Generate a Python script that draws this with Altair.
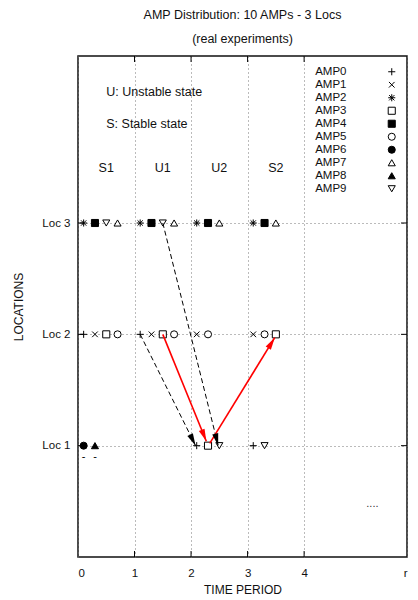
import math
import altair as alt
import pandas as pd

# ---------------- data ----------------
amp_names = [f"AMP{i}" for i in range(10)]
amp_shapes = [
    "M-1,0L1,0M0,-1L0,1",                                              # AMP0 +
    "M-0.8,-0.8L0.8,0.8M-0.8,0.8L0.8,-0.8",                            # AMP1 x
    "M-1,0L1,0M0,-1L0,1M-0.75,-0.75L0.75,0.75M-0.75,0.75L0.75,-0.75",  # AMP2 *
    "square",        # AMP3 open square
    "square",        # AMP4 filled square
    "circle",        # AMP5 open circle
    "circle",        # AMP6 filled circle
    "triangle-up",   # AMP7 open triangle
    "triangle-up",   # AMP8 filled triangle
    "triangle-down", # AMP9 open triangle down
]
amp_fills = ["white", "white", "white", "white", "black",
             "white", "black", "white", "black", "white"]
amp_strokes = ["black"] * 10

pt_amp = ["AMP2", "AMP4", "AMP9", "AMP7", "AMP2", "AMP4", "AMP9", "AMP7",
          "AMP2", "AMP4", "AMP7", "AMP2", "AMP4", "AMP7",
          "AMP0", "AMP1", "AMP3", "AMP5", "AMP0", "AMP1", "AMP3", "AMP5",
          "AMP1", "AMP5", "AMP1", "AMP5", "AMP3",
          "AMP6", "AMP8", "AMP0", "AMP3", "AMP9", "AMP0", "AMP9"]
pt_time = [0.1, 0.3, 0.5, 0.7, 1.1, 1.3, 1.5, 1.7,
           2.1, 2.3, 2.5, 3.1, 3.3, 3.5,
           0.1, 0.3, 0.5, 0.7, 1.1, 1.3, 1.5, 1.7,
           2.1, 2.3, 3.1, 3.3, 3.5,
           0.1, 0.3, 2.1, 2.3, 2.5, 3.1, 3.3]
pt_loc = [3] * 14 + [2] * 13 + [1] * 7

# small dashes below the Loc 1 markers of state S1
dash_time = [0.1, 0.3]
dash_loc = [0.9, 0.9]

# arrows (start -> end)
dashed_x0 = [1.1, 1.5]
dashed_y0 = [2.0, 3.0]
dashed_x1 = [2.08, 2.48]
dashed_y1 = [1.0, 1.0]

red_x0 = [1.5, 2.33]
red_y0 = [2.0, 1.02]
red_x1 = [2.27, 3.48]
red_y1 = [1.04, 1.97]

state_labels = ["S1", "U1", "U2", "S2"]
state_time = [0.5, 1.5, 2.5, 3.5]
state_loc = [3.49, 3.49, 3.49, 3.49]

note_text = ["U: Unstable state", "S: Stable state"]
note_time = [0.5, 0.5]
note_loc = [4.18, 3.89]

dots_text = ["...."]
dots_time = [5.1]
dots_loc = [0.48]

X_MAX, Y_MAX = 5.82, 4.5
x_ticks = [0, 1, 2, 3, 4, X_MAX]   # last tick is labelled "r"
y_ticks = [1, 2, 3]
inner_x_ticks = [1, 2, 3, 4]

# ---------------- layout ----------------
W, H = 329, 501
PX, PY = W / X_MAX, H / Y_MAX
FONT = "Liberation Sans"

points = pd.DataFrame({"amp": pt_amp, "t": pt_time, "loc": pt_loc})


def arrow_df(x0, y0, x1, y1):
    df = pd.DataFrame({"t": x0, "loc": y0, "t2": x1, "loc2": y1})
    df["ang"] = [
        (math.degrees(math.atan2((b - a) * PX, (d - c) * PY)) + 360) % 360
        for a, b, c, d in zip(x0, x1, y0, y1)
    ]
    return df


dashed = arrow_df(dashed_x0, dashed_y0, dashed_x1, dashed_y1)
red = arrow_df(red_x0, red_y0, red_x1, red_y1)

xscale = alt.Scale(domain=[0, X_MAX], nice=False, zero=False)
yscale = alt.Scale(domain=[0, Y_MAX], nice=False, zero=False)

legend = alt.Legend(
    orient="none", legendX=308, legendY=10, title=None,
    labelAlign="right", labelOffset={"expr": "-51"}, labelFontSize=11.5, labelFont=FONT,
    labelColor="#111", symbolStrokeColor="black", symbolStrokeWidth=1,
    symbolSize=50, rowPadding=0, labelLimit=200,
)

pts = alt.Chart(points).mark_point(size=50, strokeWidth=1, opacity=1).encode(
    x=alt.X("t:Q", scale=xscale, axis=alt.Axis(
        values=x_ticks, title="TIME PERIOD",
        labelExpr="datum.value > 5 ? 'r' : format(datum.value, 'd')",
        grid=True, gridDash=[1, 3], gridColor="#777", gridWidth=1,
        ticks=False, domain=False, labelPadding=10, titlePadding=6)),
    y=alt.Y("loc:Q", scale=yscale, axis=alt.Axis(
        values=y_ticks, title="LOCATIONS",
        labelExpr="'Loc ' + format(datum.value, 'd')",
        grid=True, gridDash=[1, 3], gridColor="#777", gridWidth=1,
        ticks=False, domain=False, labelPadding=8, titlePadding=16)),
    shape=alt.Shape("amp:N", scale=alt.Scale(domain=amp_names, range=amp_shapes), legend=legend),
    fill=alt.Fill("amp:N", scale=alt.Scale(domain=amp_names, range=amp_fills), legend=legend),
    stroke=alt.Stroke("amp:N", scale=alt.Scale(domain=amp_names, range=amp_strokes), legend=legend),
)

dash_marks = alt.Chart(pd.DataFrame({"t": dash_time, "loc": dash_loc, "s": ["-", "-"]})).mark_text(
    font=FONT, fontSize=11, color="black").encode(x="t:Q", y="loc:Q", text="s:N")

dashed_lines = alt.Chart(dashed).mark_rule(color="black", strokeDash=[5, 3], strokeWidth=1).encode(
    x="t:Q", y="loc:Q", x2="t2:Q", y2="loc2:Q")
red_lines = alt.Chart(red).mark_rule(color="#ff0000", strokeWidth=1.6).encode(
    x="t:Q", y="loc:Q", x2="t2:Q", y2="loc2:Q")

HEAD = "M0,0L0.5,2L-0.5,2Z"
dashed_heads = alt.Chart(dashed).mark_point(shape=HEAD, size=150, filled=True, color="black", opacity=1).encode(
    x="t2:Q", y="loc2:Q", angle=alt.Angle("ang:Q", scale=None))
red_heads = alt.Chart(red).mark_point(shape=HEAD, size=150, filled=True, color="#ff0000", opacity=1).encode(
    x="t2:Q", y="loc2:Q", angle=alt.Angle("ang:Q", scale=None))

states = alt.Chart(pd.DataFrame({"t": state_time, "loc": state_loc, "s": state_labels})).mark_text(
    font=FONT, fontSize=12.5, color="#111").encode(x="t:Q", y="loc:Q", text="s:N")
notes = alt.Chart(pd.DataFrame({"t": note_time, "loc": note_loc, "s": note_text})).mark_text(
    font=FONT, fontSize=12.5, color="#111", align="left").encode(x="t:Q", y="loc:Q", text="s:N")
dots = alt.Chart(pd.DataFrame({"t": dots_time, "loc": dots_loc, "s": dots_text})).mark_text(
    font=FONT, fontSize=11, color="#333", align="left").encode(x="t:Q", y="loc:Q", text="s:N")

# inward (gnuplot style) ticks on all four sides
xt = pd.DataFrame({"t": inner_x_ticks})
yt = pd.DataFrame({"loc": y_ticks})
tick_b = alt.Chart(xt).mark_rule(color="black").encode(x="t:Q", y=alt.value(H), y2=alt.value(H - 6))
tick_t = alt.Chart(xt).mark_rule(color="black").encode(x="t:Q", y=alt.value(0), y2=alt.value(6))
tick_l = alt.Chart(yt).mark_rule(color="black").encode(y="loc:Q", x=alt.value(0), x2=alt.value(6))
tick_r = alt.Chart(yt).mark_rule(color="black").encode(y="loc:Q", x=alt.value(W), x2=alt.value(W - 6))

chart = alt.layer(
    tick_b, tick_t, tick_l, tick_r,
    pts, dash_marks, dashed_lines, red_lines, dashed_heads, red_heads,
    states, notes, dots,
).properties(
    width=W, height=H,
    title=alt.Title("AMP Distribution: 10 AMPs - 3 Locs", subtitle="(real experiments)",
                    font=FONT, subtitleFont=FONT, fontSize=12.5, subtitleFontSize=12.5,
                    fontWeight="normal", color="#111", subtitleColor="#111",
                    subtitlePadding=12, offset=10, anchor="middle"),
    autosize=alt.AutoSizeParams(type="none"),
    padding={"left": 70, "top": 48, "right": 3, "bottom": 42},
).configure(font=FONT).configure_axis(
    labelFont=FONT, titleFont=FONT, labelFontSize=11.5, titleFontSize=12,
    titleFontWeight="normal", labelColor="#111", titleColor="#111",
).configure_view(stroke="#111", strokeWidth=1.5)

chart.save("out.html", embed_options={"renderer": "svg", "actions": False})
